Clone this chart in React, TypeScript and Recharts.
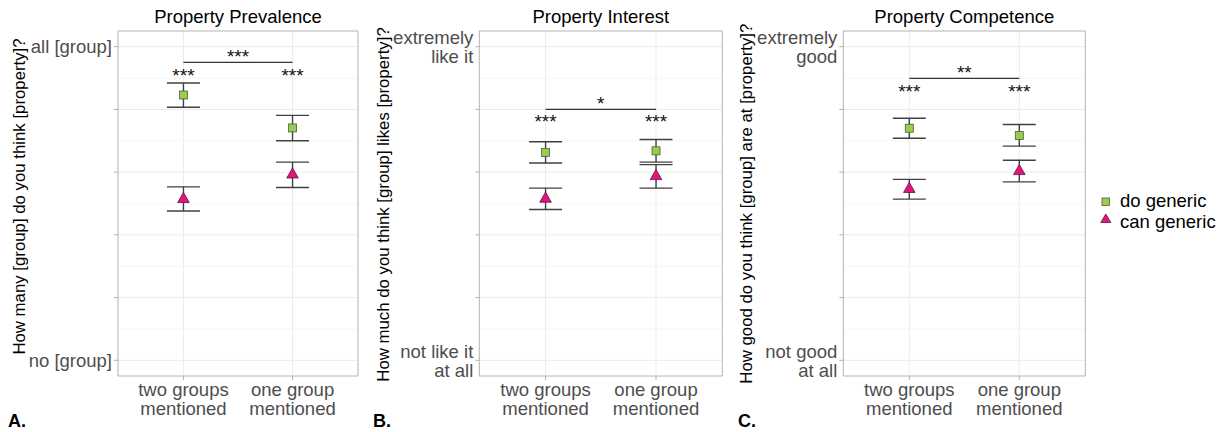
import React from 'react';
import {
  ScatterChart,
  Scatter,
  XAxis,
  YAxis,
  CartesianGrid,
  ErrorBar,
  ReferenceLine,
  ReferenceArea,
  Legend,
} from 'recharts';

// ---------- shared axis data ----------
const categoryPositions = [1, 2];
const categoryLabels = [
  ['two groups', 'mentioned'],
  ['one group', 'mentioned'],
];
const yTicks = [0, 0.2, 0.4, 0.6, 0.8, 1];
const minorTicks = [0.1, 0.3, 0.5, 0.7, 0.9];
const seriesNames = ['do generic', 'can generic'];

// ---------- Panel A: Property Prevalence ----------
const prevalenceDoMean = [0.846, 0.741];
const prevalenceDoLow = [0.807, 0.7];
const prevalenceDoHigh = [0.884, 0.781];
const prevalenceCanMean = [0.514, 0.592];
const prevalenceCanLow = [0.476, 0.551];
const prevalenceCanHigh = [0.553, 0.632];
const prevalenceStars = ['***', '***'];
const prevalenceStarY = 0.922;
const prevalenceBracketY = 0.95;
const prevalenceBracketStars = '***';
const prevalenceBracketStarY = 0.983;
const prevalenceTickLabels = [['no [group]'], ['all [group]']];

// ---------- Panel B: Property Interest ----------
const interestDoMean = [0.663, 0.668];
const interestDoLow = [0.629, 0.632];
const interestDoHigh = [0.697, 0.704];
const interestCanMean = [0.515, 0.587];
const interestCanLow = [0.481, 0.549];
const interestCanHigh = [0.549, 0.624];
const interestStars = ['***', '***'];
const interestStarY = 0.774;
const interestBracketY = 0.8;
const interestBracketStars = '*';
const interestBracketStarY = 0.833;
const interestTickLabels = [['not like it', 'at all'], ['extremely', 'like it']];

// ---------- Panel C: Property Competence ----------
const competenceDoMean = [0.74, 0.717];
const competenceDoLow = [0.708, 0.683];
const competenceDoHigh = [0.772, 0.752];
const competenceCanMean = [0.546, 0.603];
const competenceCanLow = [0.514, 0.569];
const competenceCanHigh = [0.577, 0.638];
const competenceStars = ['***', '***'];
const competenceStarY = 0.871;
const competenceBracketY = 0.899;
const competenceBracketStars = '**';
const competenceBracketStarY = 0.932;
const competenceTickLabels = [['not good', 'at all'], ['extremely', 'good']];

// ---------- styling ----------
const FONT = '"Liberation Sans", Arial, Helvetica, sans-serif';
const GREEN = '#9acb52';
const GREEN_STROKE = '#4f5f33';
const MAGENTA = '#e5137f';
const MAGENTA_STROKE = '#5a1a3a';
const TICK_GRAY = '#4d4d4d';
const BORDER = '#b3b3b3';

const buildSeries = (mean: number[], low: number[], high: number[]) =>
  mean.map((m, i) => ({
    x: categoryPositions[i],
    y: m,
    err: [m - low[i], high[i] - m],
  }));

const buildStars = (stars: string[], starY: number, bracketStars: string, bracketStarY: number) => [
  ...stars.map((s, i) => ({ x: categoryPositions[i], y: starY, label: s })),
  {
    x: (categoryPositions[0] + categoryPositions[1]) / 2,
    y: bracketStarY,
    label: bracketStars,
  },
];

const SquareShape = (props: any) => {
  const { cx, cy } = props;
  if (cx == null || cy == null) return null;
  return (
    <rect x={cx - 4} y={cy - 4} width={8} height={8} fill={GREEN} stroke={GREEN_STROKE} strokeWidth={0.8} />
  );
};

const TriangleShape = (props: any) => {
  const { cx, cy } = props;
  if (cx == null || cy == null) return null;
  const pts = `${cx},${cy - 6.8} ${cx - 5.8},${cy + 3.4} ${cx + 5.8},${cy + 3.4}`;
  return <polygon points={pts} fill={MAGENTA} stroke={MAGENTA_STROKE} strokeWidth={0.8} />;
};

const StarShape = (props: any) => {
  const { cx, cy, payload } = props;
  if (cx == null || cy == null) return null;
  return (
    <text x={cx} y={cy + 10.5} textAnchor="middle" fontSize={19} fontFamily={FONT} fill="#111">
      {payload.label}
    </text>
  );
};

const makeYTick = (labels: string[][]) => (props: any) => {
  const { x, y, payload } = props;
  let lines: string[] = [];
  if (payload.value === 0) lines = labels[0];
  else if (payload.value === 1) lines = labels[1];
  if (!lines.length) return null;
  const lh = 19;
  const base = y + 6.8 - ((lines.length - 1) * lh) / 2;
  return (
    <g>
      {lines.map((l, i) => (
        <text
          key={i}
          x={x}
          y={base + i * lh}
          textAnchor="end"
          fontSize={18.5}
          fontFamily={FONT}
          fill={TICK_GRAY}
        >
          {l}
        </text>
      ))}
    </g>
  );
};

const XTick = (props: any) => {
  const { x, y, payload } = props;
  const idx = categoryPositions.indexOf(payload.value);
  if (idx < 0) return null;
  const lines = categoryLabels[idx];
  return (
    <g>
      {lines.map((l, i) => (
        <text
          key={i}
          x={x}
          y={y + 16 + i * 19.3}
          textAnchor="middle"
          fontSize={18.5}
          fontFamily={FONT}
          fill={TICK_GRAY}
        >
          {l}
        </text>
      ))}
    </g>
  );
};

const LegendContent = () => (
  <svg width={131} height={46} style={{ display: 'block' }}>
    <rect x={7} y={7} width={7.5} height={7.5} fill={GREEN} stroke={GREEN_STROKE} strokeWidth={0.8} />
    <polygon points="10.8,23 5.8,31.5 15.8,31.5" fill={MAGENTA} stroke={MAGENTA_STROKE} strokeWidth={0.8} />
    <text x={25} y={16} fontSize={18.5} fontFamily={FONT} fill="#000">
      {seriesNames[0]}
    </text>
    <text x={25} y={36.8} fontSize={18.5} fontFamily={FONT} fill="#000">
      {seriesNames[1]}
    </text>
  </svg>
);

type PanelProps = {
  left: number;
  width: number;
  yAxisWidth: number;
  marginRight: number;
  yTitle: string;
  yTitleX: number;
  yTitleCenterY: number;
  tickLabels: string[][];
  doData: any[];
  canData: any[];
  starData: any[];
  bracketY: number;
  showLegend?: boolean;
};

const Panel = (p: PanelProps) => {
  const yTitle = () => (
    <text
      x={p.yTitleX}
      y={p.yTitleCenterY}
      transform={`rotate(-90, ${p.yTitleX}, ${p.yTitleCenterY})`}
      textAnchor="middle"
      dominantBaseline="central"
      fontSize={16.8}
      fontFamily={FONT}
      fill="#000"
    >
      {p.yTitle}
    </text>
  );
  return (
    <div style={{ position: 'absolute', left: p.left, top: 0 }}>
      <ScatterChart
        width={p.width}
        height={432}
        margin={{ top: 31, right: p.marginRight, bottom: 0, left: 0 }}
      >
        <CartesianGrid
          horizontalValues={minorTicks}
          vertical={false}
          stroke="#f3f3f3"
          strokeWidth={0.7}
        />
        <CartesianGrid
          horizontalValues={yTicks}
          verticalValues={categoryPositions}
          stroke="#ebebeb"
          strokeWidth={1}
        />
        <XAxis
          type="number"
          dataKey="x"
          domain={[0.4, 2.6]}
          ticks={categoryPositions}
          allowDataOverflow
          height={56}
          axisLine={false}
          tickLine={{ stroke: BORDER }}
          tickSize={4}
          tickMargin={0}
          tick={XTick}
          interval={0}
        />
        <YAxis
          type="number"
          dataKey="y"
          domain={[-0.05, 1.05]}
          ticks={yTicks}
          allowDataOverflow
          width={p.yAxisWidth}
          axisLine={false}
          tickLine={{ stroke: BORDER }}
          tickSize={4}
          tickMargin={2}
          tick={makeYTick(p.tickLabels)}
          interval={0}
          label={yTitle}
        />
        <ReferenceArea
          x1={0.4}
          x2={2.6}
          y1={-0.05}
          y2={1.05}
          fill="none"
          stroke={BORDER}
          strokeWidth={1}
          ifOverflow="visible"
        />
        <ReferenceLine
          segment={[
            { x: categoryPositions[0], y: p.bracketY },
            { x: categoryPositions[1], y: p.bracketY },
          ]}
          stroke="#333"
          strokeWidth={1.3}
        />
        <Scatter
          name={seriesNames[0]}
          data={p.doData}
          shape={SquareShape}
          isAnimationActive={false}
        >
          <ErrorBar dataKey="err" direction="y" width={16.5} stroke="#404040" strokeWidth={1.4} />
        </Scatter>
        <Scatter
          name={seriesNames[1]}
          data={p.canData}
          shape={TriangleShape}
          isAnimationActive={false}
        >
          <ErrorBar dataKey="err" direction="y" width={16.5} stroke="#404040" strokeWidth={1.4} />
        </Scatter>
        <Scatter data={p.starData} shape={StarShape} isAnimationActive={false} legendType="none" />
        {p.showLegend && (
          <Legend
            layout="vertical"
            align="center"
            verticalAlign="middle"
            content={LegendContent}
            wrapperStyle={{ left: 360, top: 191, width: 131, height: 46 }}
          />
        )}
      </ScatterChart>
    </div>
  );
};

export default function App() {
  return (
    <div
      style={{
        position: 'absolute',
        left: 0,
        top: 0,
        width: 1226,
        height: 432,
        background: '#fff',
        fontFamily: FONT,
        overflow: 'hidden',
      }}
    >
      <Panel
        left={0}
        width={370}
        yAxisWidth={118}
        marginRight={12}
        yTitle="How many [group] do you think [property]?"
        yTitleX={19}
        yTitleCenterY={196.5}
        tickLabels={prevalenceTickLabels}
        doData={buildSeries(prevalenceDoMean, prevalenceDoLow, prevalenceDoHigh)}
        canData={buildSeries(prevalenceCanMean, prevalenceCanLow, prevalenceCanHigh)}
        starData={buildStars(prevalenceStars, prevalenceStarY, prevalenceBracketStars, prevalenceBracketStarY)}
        bracketY={prevalenceBracketY}
      />
      <Panel
        left={370}
        width={365}
        yAxisWidth={109.3}
        marginRight={12.7}
        yTitle="How much do you think [group] likes [property]?"
        yTitleX={13.5}
        yTitleCenterY={204.5}
        tickLabels={interestTickLabels}
        doData={buildSeries(interestDoMean, interestDoLow, interestDoHigh)}
        canData={buildSeries(interestCanMean, interestCanLow, interestCanHigh)}
        starData={buildStars(interestStars, interestStarY, interestBracketStars, interestBracketStarY)}
        bracketY={interestBracketY}
      />
      <Panel
        left={735}
        width={491}
        yAxisWidth={108.3}
        marginRight={140.7}
        yTitle="How good do you think [group] are at [property]?"
        yTitleX={11.8}
        yTitleCenterY={203.7}
        tickLabels={competenceTickLabels}
        doData={buildSeries(competenceDoMean, competenceDoLow, competenceDoHigh)}
        canData={buildSeries(competenceCanMean, competenceCanLow, competenceCanHigh)}
        starData={buildStars(competenceStars, competenceStarY, competenceBracketStars, competenceBracketStarY)}
        bracketY={competenceBracketY}
        showLegend
      />
      <svg
        width={1226}
        height={432}
        style={{ position: 'absolute', left: 0, top: 0, pointerEvents: 'none' }}
      >
        <g fontFamily={FONT} fontSize={18.5} fill="#000" textAnchor="middle">
          <text x={238} y={22.5}>Property Prevalence</text>
          <text x={600.8} y={22.5}>Property Interest</text>
          <text x={964.3} y={22.5}>Property Competence</text>
        </g>
        <g fontFamily={FONT} fontSize={18} fontWeight="bold" fill="#000">
          <text x={8} y={427}>A.</text>
          <text x={373} y={427}>B.</text>
          <text x={738} y={427}>C.</text>
        </g>
      </svg>
    </div>
  );
}
